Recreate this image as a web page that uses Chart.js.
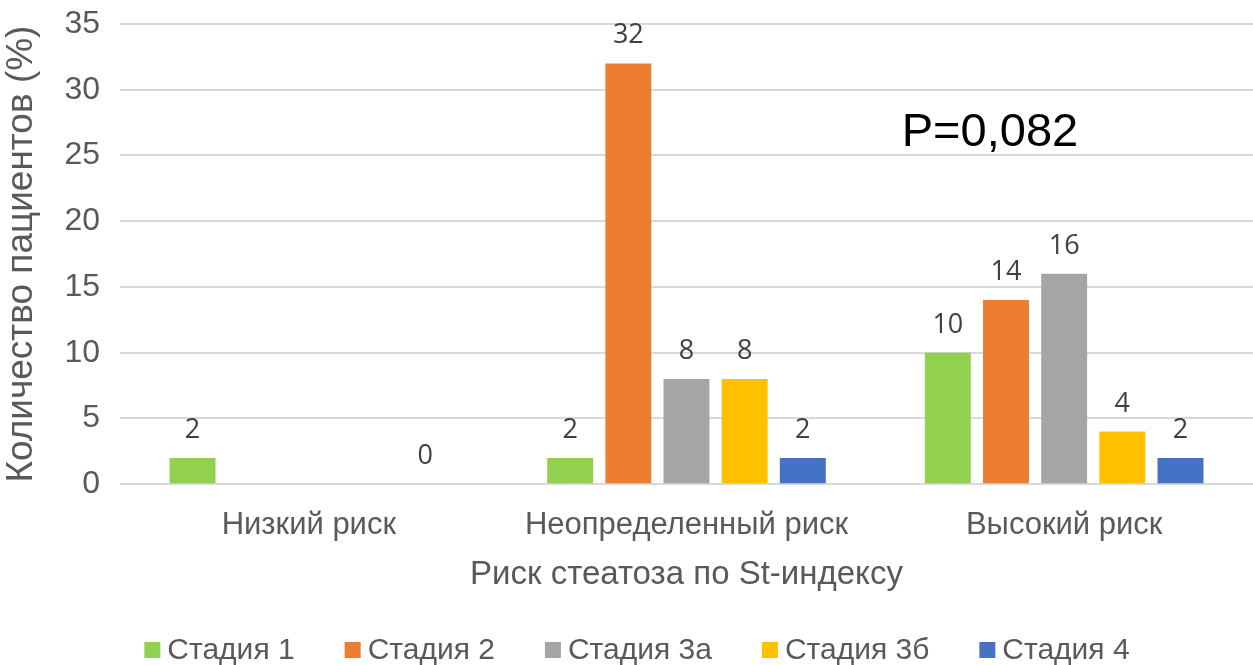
<!DOCTYPE html>
<html>
<head>
<meta charset="utf-8">
<script src="https://cdn.jsdelivr.net/npm/chart.js@4/dist/chart.umd.min.js"></script>
<style>
  html, body { margin: 0; padding: 0; background: #fff; }
  #wrap { width: 1253px; height: 665px; }
</style>
</head>
<body>
<div id="wrap"><canvas id="steatosisChart"></canvas></div>
<script>
// data
const categories = ["Низкий риск", "Неопределенный риск", "Высокий риск"];
const stage1 = [2, 2, 10];
const stage2 = [null, 32, 14];
const stage3a = [null, 8, 16];
const stage3b = [null, 8, 4];
const stage4 = [0, 2, 2];
const yTicks = [0, 5, 10, 15, 20, 25, 30, 35];

const grey = "#595959";
const sans = "'Liberation Sans', Arial, sans-serif";

// value labels above bars
const barLabels = {
    id: "barLabels",
    afterDatasetsDraw(chart) {
        const ctx = chart.ctx;
        ctx.save();
        ctx.font = "27px 'Open Sans', 'Noto Sans', sans-serif";
        ctx.fillStyle = "#404040";
        ctx.textAlign = "center";
        ctx.textBaseline = "alphabetic";
        chart.data.datasets.forEach((ds, i) => {
            chart.getDatasetMeta(i).data.forEach((bar, j) => {
                const v = ds.data[j];
                if (v === null || v === undefined) return;
                ctx.fillText(String(v), bar.x, bar.y - 20);
            });
        });
        ctx.restore();
    },
};

// P value note
const pNote = {
    id: "pNote",
    afterDraw(chart) {
        const a = chart.chartArea;
        const ctx = chart.ctx;
        ctx.save();
        ctx.font = "47px " + sans;
        ctx.fillStyle = "#000";
        ctx.textAlign = "left";
        ctx.textBaseline = "alphabetic";
        ctx.fillText("P=0,082", a.left + (a.right - a.left) * 0.69, a.top + (a.bottom - a.top) * 0.266);
        ctx.restore();
    },
};

// legend row at the bottom (Excel style: small square, tight gap, wide spacing)
const bottomLegend = {
    id: "bottomLegend",
    afterDraw(chart) {
        const ctx = chart.ctx;
        const box = 16, gap = 7, spacing = 50, y = 650;
        ctx.save();
        ctx.font = "30px " + sans;
        ctx.textBaseline = "middle";
        ctx.textAlign = "left";
        const items = chart.data.datasets.map((ds) => ({
            text: ds.label,
            color: ds.backgroundColor,
            w: box + gap + ctx.measureText(ds.label).width,
        }));
        const total = items.reduce((s, it) => s + it.w, 0) + spacing * (items.length - 1);
        let x = 637 - total / 2;
        items.forEach((it) => {
            ctx.fillStyle = it.color;
            ctx.fillRect(x, y - box / 2, box, box);
            ctx.fillStyle = grey;
            ctx.fillText(it.text, x + box + gap, y + 1);
            x += it.w + spacing;
        });
        ctx.restore();
    },
};

new Chart(document.getElementById("steatosisChart"), {
    type: "bar",
    data: {
        labels: categories,
        datasets: [
            { label: "Стадия 1", data: stage1, backgroundColor: "#92D050" },
            { label: "Стадия 2", data: stage2, backgroundColor: "#ED7D31" },
            { label: "Стадия 3а", data: stage3a, backgroundColor: "#A5A5A5" },
            { label: "Стадия 3б", data: stage3b, backgroundColor: "#FFC000" },
            { label: "Стадия 4", data: stage4, backgroundColor: "#4472C4" },
        ],
    },
    options: {
        responsive: true,
        maintainAspectRatio: false,
        animation: false,
        layout: { padding: { top: 24, right: 0, left: 0, bottom: 70 } },
        datasets: {
            bar: { categoryPercentage: 0.77, barPercentage: 0.79 },
        },
        plugins: {
            tooltip: { enabled: false },
            legend: { display: false },
        },
        scales: {
            x: {
                grid: { display: false },
                border: { display: false },
                ticks: {
                    color: grey,
                    padding: 15,
                    font: { family: sans, size: 31 },
                },
                title: {
                    display: true,
                    text: "Риск стеатоза по St-индексу",
                    color: grey,
                    padding: { top: -4, bottom: 0 },
                    font: { family: sans, size: 33 },
                },
            },
            y: {
                min: 0,
                max: 35,
                afterBuildTicks: (axis) => {
                    axis.ticks = yTicks.map((v) => ({ value: v }));
                },
                afterFit: (scale) => {
                    scale.paddingTop = 0;
                    scale.paddingBottom = 0;
                },
                grid: { color: "#D9D9D9", lineWidth: 2, drawTicks: false },
                border: { display: false },
                ticks: {
                    color: grey,
                    padding: 20,
                    font: { family: sans, size: 32 },
                },
                title: {
                    display: true,
                    text: "Количество пациентов (%)",
                    color: grey,
                    padding: { top: 0, bottom: 0 },
                    font: { family: sans, size: 37 },
                },
            },
        },
    },
    plugins: [barLabels, pNote, bottomLegend],
});
</script>
</body>
</html>
